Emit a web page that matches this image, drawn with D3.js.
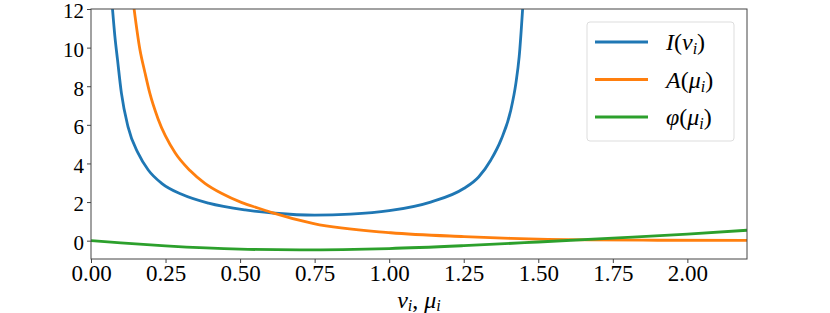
<!DOCTYPE html>
<html>
<head>
<meta charset="utf-8">
<script src="https://cdn.jsdelivr.net/npm/d3@7"></script>
<style>
  body { margin: 0; background: #fff; }
  text { font-family: "Liberation Serif", "DejaVu Serif", serif; fill: #000; }
  .axis path, .axis line { stroke: #444; }
</style>
</head>
<body>
<div id="chart"></div>
<script>
// values
const blueNu  = [0.07, 0.08, 0.089, 0.102, 0.124, 0.158, 0.192, 0.237, 0.304, 0.394, 0.517, 0.618, 0.75, 0.87, 1.0, 1.139, 1.25, 1.3, 1.341, 1.375, 1.408, 1.425, 1.436, 1.45]
const blueI   = [12.4, 10.6, 9.36, 7.64, 5.91, 4.53, 3.66, 2.97, 2.4, 1.94, 1.59, 1.42, 1.32, 1.37, 1.55, 2.0, 2.7, 3.3, 4.18, 5.22, 6.77, 8.16, 9.53, 12.6]
const orangeMu = [0.142, 0.164, 0.181, 0.197, 0.225, 0.282, 0.332, 0.382, 0.439, 0.506, 0.562, 0.607, 0.747, 1.005, 1.251, 1.408, 1.666, 1.9, 2.2]
const orangeA  = [12.3, 9.9, 8.7, 7.65, 6.3, 4.55, 3.63, 2.97, 2.44, 1.97, 1.68, 1.45, 0.88, 0.41, 0.21, 0.12, 0.04, 0.02, 0.01]
const greenMu  = [0, 0.1, 0.25, 0.5, 0.7, 1.0, 1.25, 1.5, 1.75, 2.0, 2.2]
const greenPhi = [0, -0.12, -0.27, -0.44, -0.48, -0.41, -0.26, -0.07, 0.13, 0.34, 0.54]
const xTicks = [0, 0.25, 0.5, 0.75, 1.0, 1.25, 1.5, 1.75, 2.0]
const yTicks = [0, 2, 4, 6, 8, 10, 12]

let width = 830, height = 313
const margin = {top: 9, right: 83, bottom: 54, left: 91}

let svg = d3.select("#chart").append("svg")
  .attr("width", width)
  .attr("height", height)

let x = d3.scaleLinear().domain([0, 2.2]).range([margin.left, width-margin.right])
let y = d3.scaleLinear().domain([-0.95, 12]).range([height-margin.bottom, margin.top])

svg.append("clipPath").attr("id", "clip")
  .append("rect")
  .attr("x", margin.left).attr("y", margin.top)
  .attr("width", x.range()[1]-x.range()[0])
  .attr("height", y.range()[0]-y.range()[1])

let line = d3.line().x(d => x(d[0])).y(d => y(d[1])).curve(d3.curveMonotoneX)

const series = [
  {xs: blueNu, ys: blueI, colour: "#1f77b4"},
  {xs: orangeMu, ys: orangeA, colour: "#ff7f0e"},
  {xs: greenMu, ys: greenPhi, colour: "#2ca02c"}
]

let plot = svg.append("g").attr("clip-path", "url(#clip)")
series.forEach(s => {
  plot.append("path")
    .datum(s.xs.map((v, i) => [v, s.ys[i]]))
    .attr("fill", "none")
    .attr("stroke", s.colour)
    .attr("stroke-width", 2.8)
    .attr("d", line)
})

// frame
svg.append("rect")
  .attr("x", margin.left).attr("y", margin.top)
  .attr("width", x.range()[1]-x.range()[0])
  .attr("height", y.range()[0]-y.range()[1])
  .attr("fill", "none").attr("stroke", "#444").attr("stroke-width", 1)

let xAxis = svg.append("g")
  .attr("class", "axis")
  .attr("transform", `translate(0, ${height-margin.bottom})`)
  .call(d3.axisBottom(x).tickValues(xTicks).tickSize(4).tickPadding(2).tickFormat(d3.format(".2f")))
xAxis.select(".domain").remove()
xAxis.selectAll("text").style("font-size", "23px")

let yAxis = svg.append("g")
  .attr("class", "axis")
  .attr("transform", `translate(${margin.left}, 0)`)
  .call(d3.axisLeft(y).tickValues(yTicks).tickSize(4).tickPadding(3))
yAxis.select(".domain").remove()
yAxis.selectAll("text").style("font-size", "21px").attr("dy", "0.42em")

// x label
let xl = svg.append("text")
  .attr("x", (x.range()[0]+x.range()[1])/2)
  .attr("y", 308)
  .style("text-anchor", "middle")
  .style("font-size", "24px")
xl.append("tspan").style("font-style", "italic").text("ν")
xl.append("tspan").style("font-style", "italic").style("font-size", "16px").attr("dy", 3).text("i")
xl.append("tspan").attr("dy", -3).text(", ")
xl.append("tspan").style("font-style", "italic").text("μ")
xl.append("tspan").style("font-style", "italic").style("font-size", "16px").attr("dy", 3).text("i")

// legend
let legend = svg.append("g")
legend.append("rect")
  .attr("x", 587).attr("y", 22).attr("width", 147).attr("height", 119)
  .attr("rx", 3).attr("fill", "#fff").attr("stroke", "#ddd")

const legendItems = [
  {f: "I", v: "ν", colour: "#1f77b4"},
  {f: "A", v: "μ", colour: "#ff7f0e"},
  {f: "φ", v: "μ", colour: "#2ca02c"}
]
legendItems.forEach((d, i) => {
  let ly = 42 + i*37.5
  legend.append("line")
    .attr("x1", 595).attr("x2", 648).attr("y1", ly).attr("y2", ly)
    .attr("stroke", d.colour).attr("stroke-width", 2.8)
  let t = legend.append("text")
    .attr("x", 666).attr("y", ly+8)
    .style("font-size", "24px")
  t.append("tspan").style("font-style", "italic").text(d.f)
  t.append("tspan").text("(")
  t.append("tspan").style("font-style", "italic").text(d.v)
  t.append("tspan").style("font-style", "italic").style("font-size", "16px").attr("dy", 4).text("i")
  t.append("tspan").attr("dy", -4).text(")")
})
</script>
</body>
</html>
